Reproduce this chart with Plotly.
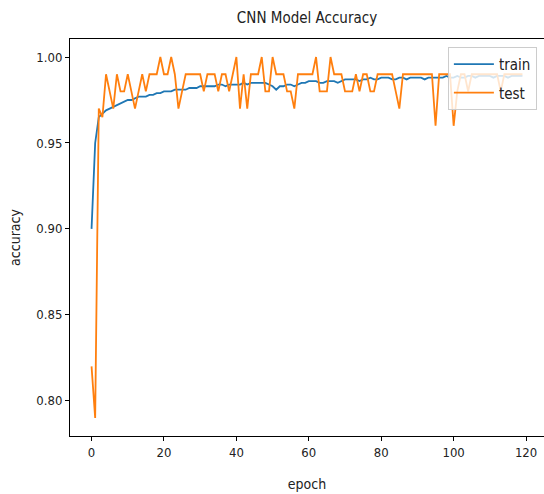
import plotly.graph_objects as go

epochs = list(range(120))

train_acc = [
    0.900, 0.950, 0.965, 0.967, 0.969, 0.970, 0.971, 0.972, 0.973, 0.974,
    0.975, 0.975, 0.976, 0.977, 0.977, 0.977, 0.978, 0.978, 0.979, 0.979,
    0.980, 0.980, 0.980, 0.981, 0.981, 0.981, 0.981, 0.982, 0.982, 0.982,
    0.983, 0.983, 0.983, 0.983, 0.983, 0.984, 0.984, 0.983, 0.984, 0.984,
    0.984, 0.984, 0.985, 0.984, 0.985, 0.985, 0.985, 0.985, 0.985, 0.984,
    0.983, 0.981, 0.983, 0.983, 0.984, 0.984, 0.983, 0.984, 0.985, 0.985,
    0.986, 0.986, 0.986, 0.985, 0.985, 0.986, 0.986, 0.986, 0.985, 0.986,
    0.987, 0.987, 0.987, 0.987, 0.986, 0.987, 0.987, 0.988, 0.987, 0.987,
    0.988, 0.988, 0.988, 0.987, 0.987, 0.988, 0.988, 0.987, 0.988, 0.988,
    0.988, 0.988, 0.987, 0.988, 0.988, 0.988, 0.988, 0.988, 0.989, 0.988,
    0.988, 0.989, 0.988, 0.988, 0.989, 0.989, 0.988, 0.989, 0.989, 0.989,
    0.989, 0.988, 0.989, 0.989, 0.989, 0.988, 0.989, 0.989, 0.989, 0.989,
]

test_acc = [
    0.82, 0.79, 0.97, 0.965, 0.99, 0.98, 0.97, 0.99, 0.98, 0.98,
    0.99, 0.98, 0.97, 0.98, 0.99, 0.98, 0.99, 0.99, 0.99, 1.00,
    0.99, 0.99, 1.00, 0.99, 0.97, 0.98, 0.99, 0.99, 0.99, 0.99,
    0.99, 0.98, 0.99, 0.99, 0.99, 0.98, 0.99, 0.99, 0.98, 0.99,
    1.00, 0.97, 0.99, 0.97, 0.99, 0.99, 0.99, 1.00, 0.98, 0.98,
    1.00, 0.99, 0.99, 0.99, 0.98, 0.98, 0.97, 0.99, 0.99, 0.99,
    0.99, 0.99, 1.00, 0.98, 0.98, 0.98, 1.00, 0.99, 0.99, 0.99,
    0.98, 0.98, 0.98, 0.99, 0.98, 0.99, 0.99, 0.98, 0.98, 0.99,
    0.99, 0.99, 0.99, 0.99, 0.98, 0.97, 0.99, 0.99, 0.99, 0.99,
    0.99, 0.99, 0.99, 0.99, 0.99, 0.96, 0.99, 0.99, 0.99, 0.99,
    0.96, 0.98, 0.99, 0.99, 0.98, 0.99, 0.99, 0.99, 0.99, 0.99,
    0.99, 0.99, 0.99, 0.98, 0.99, 0.99, 0.99, 0.99, 0.99, 0.99,
]

x_ticks = [0, 20, 40, 60, 80, 100, 120]
y_ticks = [0.80, 0.85, 0.90, 0.95, 1.00]
y_tick_labels = ["0.80", "0.85", "0.90", "0.95", "1.00"]

FONT = "DejaVu Sans Condensed, Liberation Sans Narrow, DejaVu Sans, sans-serif"

fig = go.Figure()
fig.add_trace(go.Scatter(x=epochs, y=train_acc, mode="lines", name="train",
                         legendgroup="a",
                         line=dict(color="#1f77b4", width=1.8)))
fig.add_trace(go.Scatter(x=epochs, y=test_acc, mode="lines", name="test",
                         legendgroup="b",
                         line=dict(color="#ff7f0e", width=1.8)))

axis_common = dict(showline=True, mirror=True, linecolor="black", linewidth=1,
                   ticks="outside", ticklen=4, tickwidth=1, tickcolor="black",
                   showgrid=False, zeroline=False,
                   tickfont=dict(family=FONT, size=13, color="#222"))

fig.update_layout(
    width=544, height=494,
    margin=dict(l=70, r=0, t=39, b=58),
    paper_bgcolor="white", plot_bgcolor="white",
    font=dict(family=FONT, color="#222"),
    title=dict(text="CNN Model Accuracy", x=0.5, xref="paper", xanchor="center",
               y=1 - 18 / 494, yref="container", yanchor="middle",
               font=dict(family=FONT, size=15, color="#222")),
    xaxis=dict(range=[-5.95, 124.95], tickvals=x_ticks,
               title=dict(text="epoch", standoff=20,
                          font=dict(family=FONT, size=14, color="#222")),
               **axis_common),
    yaxis=dict(range=[0.7795, 1.0105], tickvals=y_ticks, ticktext=y_tick_labels,
               title=dict(text="accuracy", standoff=12,
                          font=dict(family=FONT, size=14, color="#222")),
               **axis_common),
    legend=dict(x=0.985, y=0.98, xanchor="right", yanchor="top",
                bgcolor="rgba(255,255,255,0.8)", bordercolor="#cccccc", borderwidth=1,
                font=dict(family=FONT, size=15, color="#222"),
                itemwidth=40, tracegroupgap=6),
    showlegend=True,
)

fig.write_html("out.html")
